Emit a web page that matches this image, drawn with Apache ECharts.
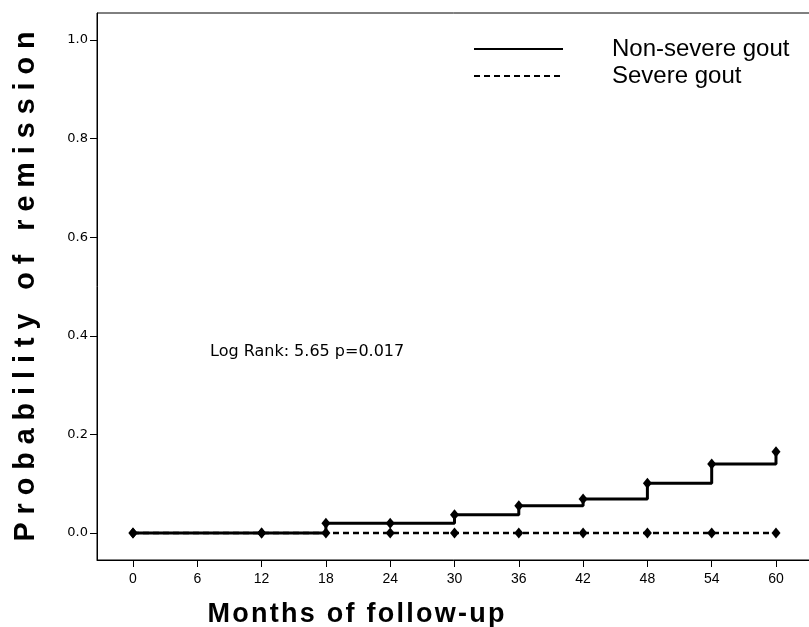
<!DOCTYPE html>
<html><head><meta charset="utf-8">
<script src="https://cdn.jsdelivr.net/npm/echarts@6/dist/echarts.min.js"></script>
<style>html,body{margin:0;padding:0;background:#fff}#c{width:809px;height:627px}</style>
</head><body><div id="c"></div>
<script>
const months = [0, 12, 18, 24, 30, 36, 42, 48, 54, 60];
const nonSevere = [0, 0, 0.02, 0.02, 0.037, 0.055, 0.069, 0.101, 0.140, 0.165];
const severe = [0, 0, 0, 0, 0, 0, 0, 0, 0, 0];
const xTicks = [0, 6, 12, 18, 24, 30, 36, 42, 48, 54, 60];
const yTicks = [0, 0.2, 0.4, 0.6, 0.8, 1.0];
const seriesNames = ['Non-severe gout', 'Severe gout'];
const xTitle = 'Months of follow-up';
const yTitle = 'Probability of remission';
const note = 'Log Rank: 5.65 p=0.017';

function spaced(s, sep, wsep) {
  return s.split(' ').map(w => w.split('').join(sep)).join(wsep);
}
const HAIR = '\u200A';
const sans = '"Liberation Sans", Arial, sans-serif';
const dv = '"DejaVu Sans", Verdana, sans-serif';

const chart = echarts.init(document.getElementById('c'), null, {renderer: 'canvas'});
chart.setOption({
  animation: false,
  backgroundColor: '#fff',
  grid: {left: 97, top: 13, right: -6, bottom: 67, show: true, borderColor: '#000', borderWidth: 1,
         containLabel: false, outerBoundsMode: 'none'},
  legend: {
    data: seriesNames, orient: 'vertical', left: 468, top: 31,
    itemWidth: 89, itemHeight: 14, itemGap: 1, selectedMode: false,
    itemStyle: {opacity: 0},
    textStyle: {fontSize: 24, color: '#000', fontFamily: sans, padding: [0, 0, 0, 44], lineHeight: 26}
  },
  xAxis: {
    type: 'value', min: -3.359, max: 63.64,
    splitLine: {show: false},
    axisLine: {show: true, onZero: false, lineStyle: {color: '#000', width: 1}},
    axisTick: {show: true, customValues: xTicks, length: 7, lineStyle: {color: '#000'}},
    axisLabel: {customValues: xTicks, color: '#000', fontFamily: sans, fontSize: 14, margin: 12},
    name: spaced(xTitle, HAIR, HAIR + ' ' + HAIR), nameLocation: 'middle', nameGap: 41,
    nameTextStyle: {fontSize: 27, fontWeight: 'bold', color: '#000', fontFamily: sans,
                    padding: [0, 200, 0, 0]}
  },
  yAxis: {
    type: 'value', min: -0.0548, max: 1.0548,
    splitLine: {show: false},
    axisLine: {show: true, onZero: false, lineStyle: {color: '#000', width: 1}},
    axisTick: {show: true, customValues: yTicks, length: 7, lineStyle: {color: '#000'}},
    axisLabel: {customValues: yTicks, color: '#000', fontFamily: dv, fontSize: 13, margin: 9,
                formatter: v => v.toFixed(1)},
    name: spaced(yTitle, ' ', '   '), nameLocation: 'middle', nameGap: 56, nameRotate: 90,
    nameTextStyle: {fontSize: 28.7, fontWeight: 'bold', color: '#000', fontFamily: sans}
  },
  graphic: [{
    type: 'text', left: 210, top: 344,
    style: {text: note, fill: '#000', font: '16px ' + dv}
  }],
  series: [
    {name: seriesNames[1], type: 'line', step: 'end', z: 2,
     data: months.map((m, i) => [m, severe[i]]),
     symbol: 'diamond', symbolSize: [9, 11],
     lineStyle: {color: '#000', width: 2.5, type: [6, 4]}, itemStyle: {color: '#000'}},
    {name: seriesNames[0], type: 'line', step: 'end', z: 3,
     data: months.map((m, i) => [m, nonSevere[i]]),
     symbol: 'diamond', symbolSize: [9, 11],
     lineStyle: {color: '#000', width: 3}, itemStyle: {color: '#000'}}
  ]
});
</script>
</body></html>
